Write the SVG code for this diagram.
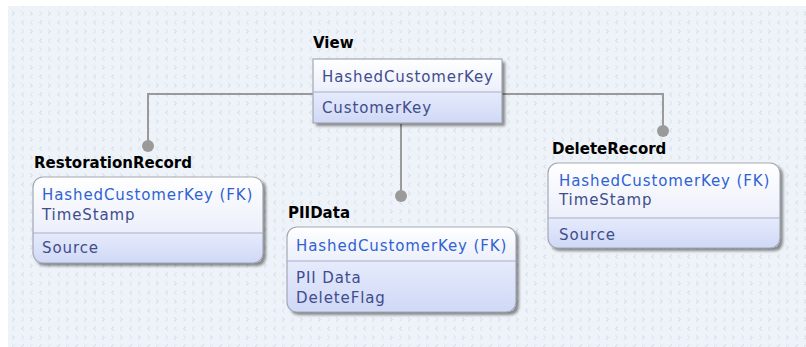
<svg xmlns="http://www.w3.org/2000/svg" width="806" height="347" viewBox="0 0 806 347">
  <defs>
    <!-- faint chevron texture of the canvas -->
    <pattern id="grid" width="18" height="18" patternUnits="userSpaceOnUse">
      <rect width="18" height="18" fill="#eef3f9"/>
      <path d="M6 2.5 L3.5 4.5 L6 6.5 M12 11.5 L14.5 13.5 L12 15.5" fill="none" stroke="#d3d9e2" stroke-width="1"/>
      <path d="M14.5 2.5 L12 4.5 L14.5 6.5 M3.5 11.5 L6 13.5 L3.5 15.5" fill="none" stroke="#dde2ea" stroke-width="1"/>
    </pattern>
    <linearGradient id="keyFill" x1="0" y1="0" x2="0" y2="1">
      <stop offset="0" stop-color="#ffffff"/>
      <stop offset="1" stop-color="#eceffb"/>
    </linearGradient>
    <linearGradient id="attrFill" x1="0" y1="0" x2="0" y2="1">
      <stop offset="0" stop-color="#e6ebfc"/>
      <stop offset="1" stop-color="#cfd8f6"/>
    </linearGradient>
    <filter id="shadow" x="-10%" y="-10%" width="120%" height="130%">
      <feGaussianBlur in="SourceAlpha" stdDeviation="1.5"/>
      <feOffset dx="3" dy="3" result="b"/>
      <feComponentTransfer><feFuncA type="linear" slope="0.45"/></feComponentTransfer>
      <feMerge><feMergeNode/><feMergeNode in="SourceGraphic"/></feMerge>
    </filter>
  </defs>
  <style>
    .title { font-family: "DejaVu Sans", sans-serif; font-weight: bold; font-size: 15px; fill: #000; }
    .attr { font-family: "DejaVu Sans", sans-serif; font-size: 15px; letter-spacing: 0.9px; fill: #3f4d8c; }
    .fk { fill: #2f62d2; }
    .frame { fill: none; stroke: #a3a7b3; stroke-width: 1.2; }
    .divider { stroke: #a8afc4; stroke-width: 1.2; }
    .link { fill: none; stroke: #9a9a9a; stroke-width: 2; }
    .dot { fill: #9a9a9a; }
  </style>

  <rect x="0" y="0" width="806" height="347" fill="#ffffff"/>
  <rect x="8" y="6" width="798" height="341" fill="url(#grid)"/>

  <!-- relationship lines -->
  <g id="connectors">
    <polyline class="link" points="313,94 148,94 148,145"/>
    <circle class="dot" cx="148" cy="146" r="6"/>
    <line class="link" x1="401" y1="124" x2="401" y2="195"/>
    <circle class="dot" cx="401" cy="196" r="6"/>
    <polyline class="link" points="502,94 663,94 663,130"/>
    <circle class="dot" cx="663" cy="131" r="6"/>
  </g>

  <g id="View">
    <text class="title" x="313" y="48">View</text>
    <g filter="url(#shadow)">
      <rect x="313" y="59" width="189" height="33" fill="url(#keyFill)"/>
      <rect x="313" y="92" width="189" height="31" fill="url(#attrFill)"/>
    </g>
    <rect class="frame" x="313" y="59" width="189" height="64"/>
    <line class="divider" x1="313" y1="92" x2="502" y2="92"/>
    <text class="attr" x="322" y="82">HashedCustomerKey</text>
    <text class="attr" x="322" y="113">CustomerKey</text>
  </g>

  <g id="RestorationRecord">
    <text class="title" x="34" y="168">RestorationRecord</text>
    <g filter="url(#shadow)">
      <path d="M33 233 V187 Q33 177 43 177 H253 Q263 177 263 187 V233 Z" fill="url(#keyFill)"/>
      <path d="M33 233 H263 V253 Q263 263 253 263 H43 Q33 263 33 253 Z" fill="url(#attrFill)"/>
    </g>
    <rect class="frame" x="33" y="177" width="230" height="86" rx="10"/>
    <line class="divider" x1="33" y1="233" x2="263" y2="233"/>
    <text class="attr fk" x="42" y="200">HashedCustomerKey (FK)</text>
    <text class="attr" x="42" y="220">TimeStamp</text>
    <text class="attr" x="42" y="253">Source</text>
  </g>

  <g id="PIIData">
    <text class="title" x="288" y="218">PIIData</text>
    <g filter="url(#shadow)">
      <path d="M287 261 V237 Q287 227 297 227 H506 Q516 227 516 237 V261 Z" fill="url(#keyFill)"/>
      <path d="M287 261 H516 V302 Q516 312 506 312 H297 Q287 312 287 302 Z" fill="url(#attrFill)"/>
    </g>
    <rect class="frame" x="287" y="227" width="229" height="85" rx="10"/>
    <line class="divider" x1="287" y1="261" x2="516" y2="261"/>
    <text class="attr fk" x="296" y="251">HashedCustomerKey (FK)</text>
    <text class="attr" x="296" y="283">PII Data</text>
    <text class="attr" x="296" y="303">DeleteFlag</text>
  </g>

  <g id="DeleteRecord">
    <text class="title" x="552" y="154">DeleteRecord</text>
    <g filter="url(#shadow)">
      <path d="M548 218 V173 Q548 163 558 163 H770 Q780 163 780 173 V218 Z" fill="url(#keyFill)"/>
      <path d="M548 218 H780 V238 Q780 248 770 248 H558 Q548 248 548 238 Z" fill="url(#attrFill)"/>
    </g>
    <rect class="frame" x="548" y="163" width="232" height="85" rx="10"/>
    <line class="divider" x1="548" y1="218" x2="780" y2="218"/>
    <text class="attr fk" x="559" y="186">HashedCustomerKey (FK)</text>
    <text class="attr" x="559" y="205">TimeStamp</text>
    <text class="attr" x="559" y="240">Source</text>
  </g>
</svg>
